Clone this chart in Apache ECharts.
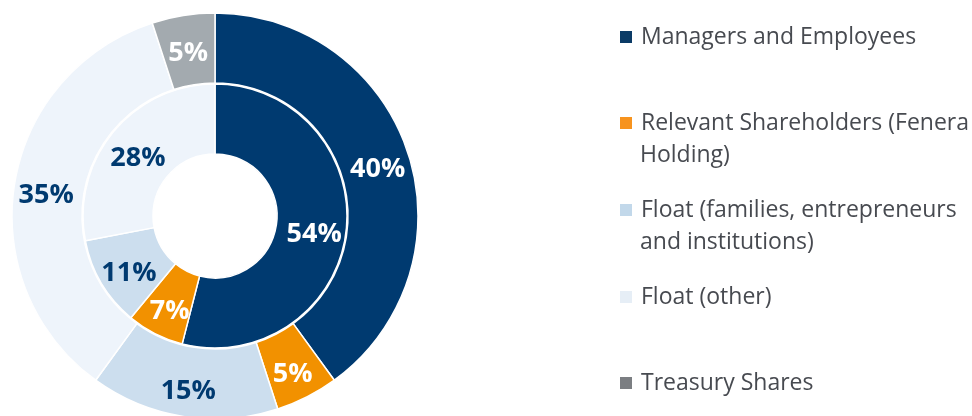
<!DOCTYPE html>
<html>
<head>
<meta charset="utf-8">
<script src="https://cdn.jsdelivr.net/npm/echarts@6/dist/echarts.min.js"></script>
<style>
html,body{margin:0;padding:0;background:#fff;}
#c{width:972px;height:416px;}
</style>
</head>
<body>
<div id="c"></div>
<script>
const categories = ['Managers and Employees', 'Relevant Shareholders (Fenera', 'Float (families, entrepreneurs', 'Float (other)', 'Treasury Shares'];
const secondLines = ['', 'Holding)', 'and institutions)', '', ''];
const outerValues = [40, 5, 15, 35, 5];
const innerValues = [54, 7, 11, 28];
const sliceColors = ['#003A70', '#F29100', '#CCDEEE', '#EEF4FB', '#A3AAAF'];
const legendColors = ['#0B3B66', '#F7931E', '#C2D8EA', '#E6EEF6', '#7B7E82'];
const outerLabelColors = ['#ffffff', '#ffffff', '#003A70', '#003A70', '#ffffff'];
const innerLabelColors = ['#ffffff', '#ffffff', '#003A70', '#003A70'];

const chart = echarts.init(document.getElementById('c'), null, {renderer: 'canvas'});

function ring(values, labelColors, radius) {
  return {
    type: 'pie',
    center: [215, 216],
    radius: radius,
    startAngle: 90,
    clockwise: true,
    silent: true,
    animation: false,
    avoidLabelOverlap: false,
    itemStyle: {borderColor: '#ffffff', borderWidth: 1.5},
    label: {
      show: true,
      position: 'inside',
      formatter: '{c}%',
      fontFamily: 'Open Sans',
      fontWeight: 'bold',
      fontSize: 27
    },
    labelLayout: {dy: 6},
    labelLine: {show: false},
    emphasis: {disabled: true},
    data: values.map((v, i) => ({
      value: v,
      name: categories[i],
      itemStyle: {color: sliceColors[i]},
      label: {color: labelColors[i]}
    }))
  };
}

const legendTop = [37, 123, 210, 297, 383];
const legends = categories.map((name, i) => ({
  data: [{name: name, itemStyle: {color: legendColors[i]}}],
  left: 618,
  top: legendTop[i] - 16,
  padding: 0,
  orient: 'vertical',
  icon: 'rect',
  itemWidth: 14,
  itemHeight: 14,
  selectedMode: false,
  textStyle: {fontFamily: 'Open Sans', fontSize: 23, color: '#474a50', lineHeight: 32, padding: [0, 0, 0, 3]}
}));

const graphics = secondLines.map((t, i) => t ? ({
  type: 'text',
  x: 640,
  y: legendTop[i] + 32,
  style: {text: t, font: '23px "Open Sans"', fill: '#474a50', verticalAlign: 'middle'}
}) : null).filter(Boolean);

chart.setOption({
  backgroundColor: '#ffffff',
  animation: false,
  legend: legends,
  graphic: graphics,
  series: [
    ring(innerValues, innerLabelColors, [62, 132]),
    ring(outerValues, outerLabelColors, [133, 203])
  ]
});
</script>
</body>
</html>
